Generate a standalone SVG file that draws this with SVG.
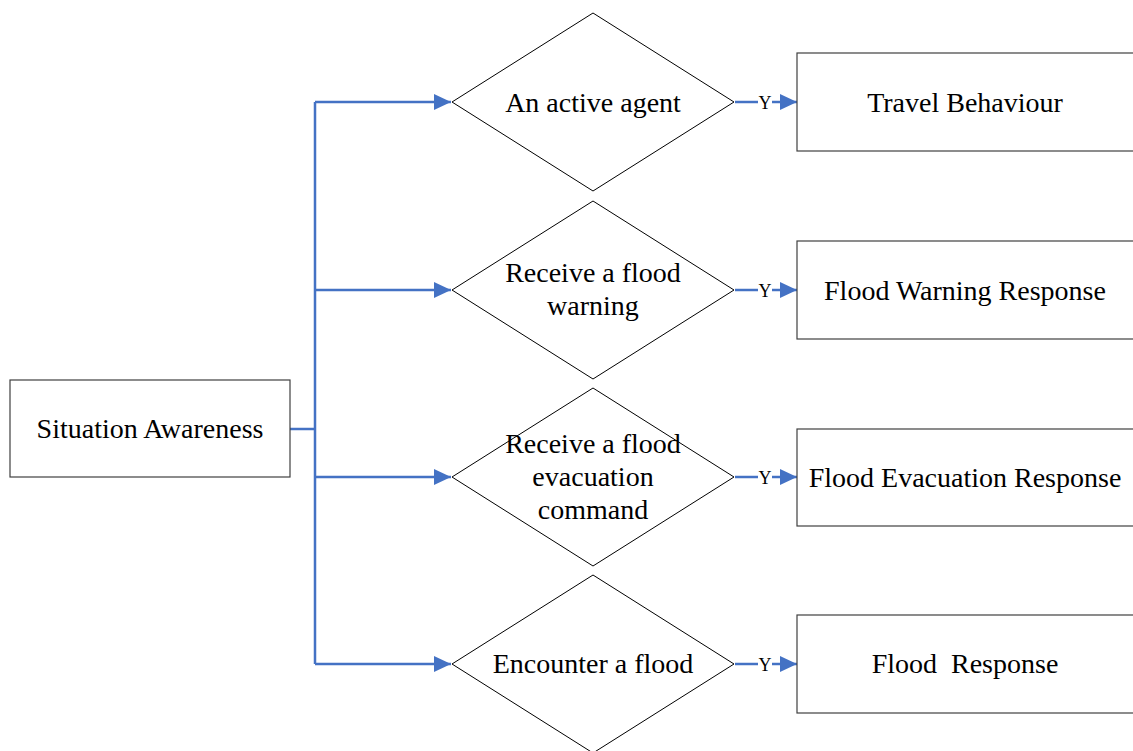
<svg xmlns="http://www.w3.org/2000/svg" width="1133" height="751" viewBox="0 0 1133 751">
  <defs>
    <style>
      .box { fill: #ffffff; stroke: #404040; stroke-width: 1.2; }
      .dia { fill: #ffffff; stroke: #000000; stroke-width: 1; }
      .lbl { font-family: "Liberation Serif", "Times New Roman", serif; font-size: 28px; fill: #000000; text-anchor: middle; white-space: pre; }
      .yes { font-family: "Liberation Serif", "Times New Roman", serif; font-size: 18px; fill: #000000; text-anchor: middle; }
      .wire { fill: none; stroke: #4472C4; stroke-width: 2.5; }
    </style>
    <marker id="arrow" markerUnits="userSpaceOnUse" markerWidth="17" markerHeight="16" refX="17" refY="8" orient="auto">
      <path d="M0,0 L17,8 L0,16 Z" fill="#4472C4"/>
    </marker>
  </defs>

  <rect width="1133" height="751" fill="#ffffff"/>

  <!-- connectors -->
  <g id="connectors">
    <path class="wire" d="M290,429 H315"/>
    <path class="wire" d="M315,102 V664"/>
    <path class="wire" d="M315,102 H451" marker-end="url(#arrow)"/>
    <path class="wire" d="M315,290 H451" marker-end="url(#arrow)"/>
    <path class="wire" d="M315,477 H451" marker-end="url(#arrow)"/>
    <path class="wire" d="M315,664 H451" marker-end="url(#arrow)"/>

    <path class="wire" d="M735,102 H758"/>
    <path class="wire" d="M772,102 H797" marker-end="url(#arrow)"/>
    <text class="yes" x="765" y="108.5">Y</text>

    <path class="wire" d="M735,290 H758"/>
    <path class="wire" d="M772,290 H797" marker-end="url(#arrow)"/>
    <text class="yes" x="765" y="296.5">Y</text>

    <path class="wire" d="M735,477 H758"/>
    <path class="wire" d="M772,477 H797" marker-end="url(#arrow)"/>
    <text class="yes" x="765" y="483.5">Y</text>

    <path class="wire" d="M735,664 H758"/>
    <path class="wire" d="M772,664 H797" marker-end="url(#arrow)"/>
    <text class="yes" x="765" y="670.5">Y</text>
  </g>

  <!-- start node -->
  <g id="situation-awareness">
    <rect class="box" x="10" y="380" width="280" height="97"/>
    <text class="lbl" x="150" y="438">Situation Awareness</text>
  </g>

  <!-- decisions -->
  <g id="active-agent">
    <polygon class="dia" points="593,13 734,102 593,191 452,102"/>
    <text class="lbl" x="593" y="111.5">An active agent</text>
  </g>
  <g id="flood-warning">
    <polygon class="dia" points="593,201 734,290 593,379 452,290"/>
    <text class="lbl" x="593" y="282">Receive a flood</text>
    <text class="lbl" x="593" y="315">warning</text>
  </g>
  <g id="evacuation-command">
    <polygon class="dia" points="593,388 734,477 593,566 452,477"/>
    <text class="lbl" x="593" y="453">Receive a flood</text>
    <text class="lbl" x="593" y="486">evacuation</text>
    <text class="lbl" x="593" y="519">command</text>
  </g>
  <g id="encounter-flood">
    <polygon class="dia" points="593,575 734,664 593,753 452,664"/>
    <text class="lbl" x="593" y="673">Encounter a flood</text>
  </g>

  <!-- responses -->
  <g id="travel-behaviour">
    <rect class="box" x="797" y="53" width="340" height="98"/>
    <text class="lbl" x="965" y="111.5">Travel Behaviour</text>
  </g>
  <g id="flood-warning-response">
    <rect class="box" x="797" y="241" width="340" height="98"/>
    <text class="lbl" x="965" y="299.5">Flood Warning Response</text>
  </g>
  <g id="flood-evacuation-response">
    <rect class="box" x="797" y="429" width="340" height="97"/>
    <text class="lbl" x="965" y="486.5">Flood Evacuation Response</text>
  </g>
  <g id="flood-response">
    <rect class="box" x="797" y="615" width="340" height="98"/>
    <text class="lbl" x="965" y="673" xml:space="preserve">Flood  Response</text>
  </g>
</svg>
